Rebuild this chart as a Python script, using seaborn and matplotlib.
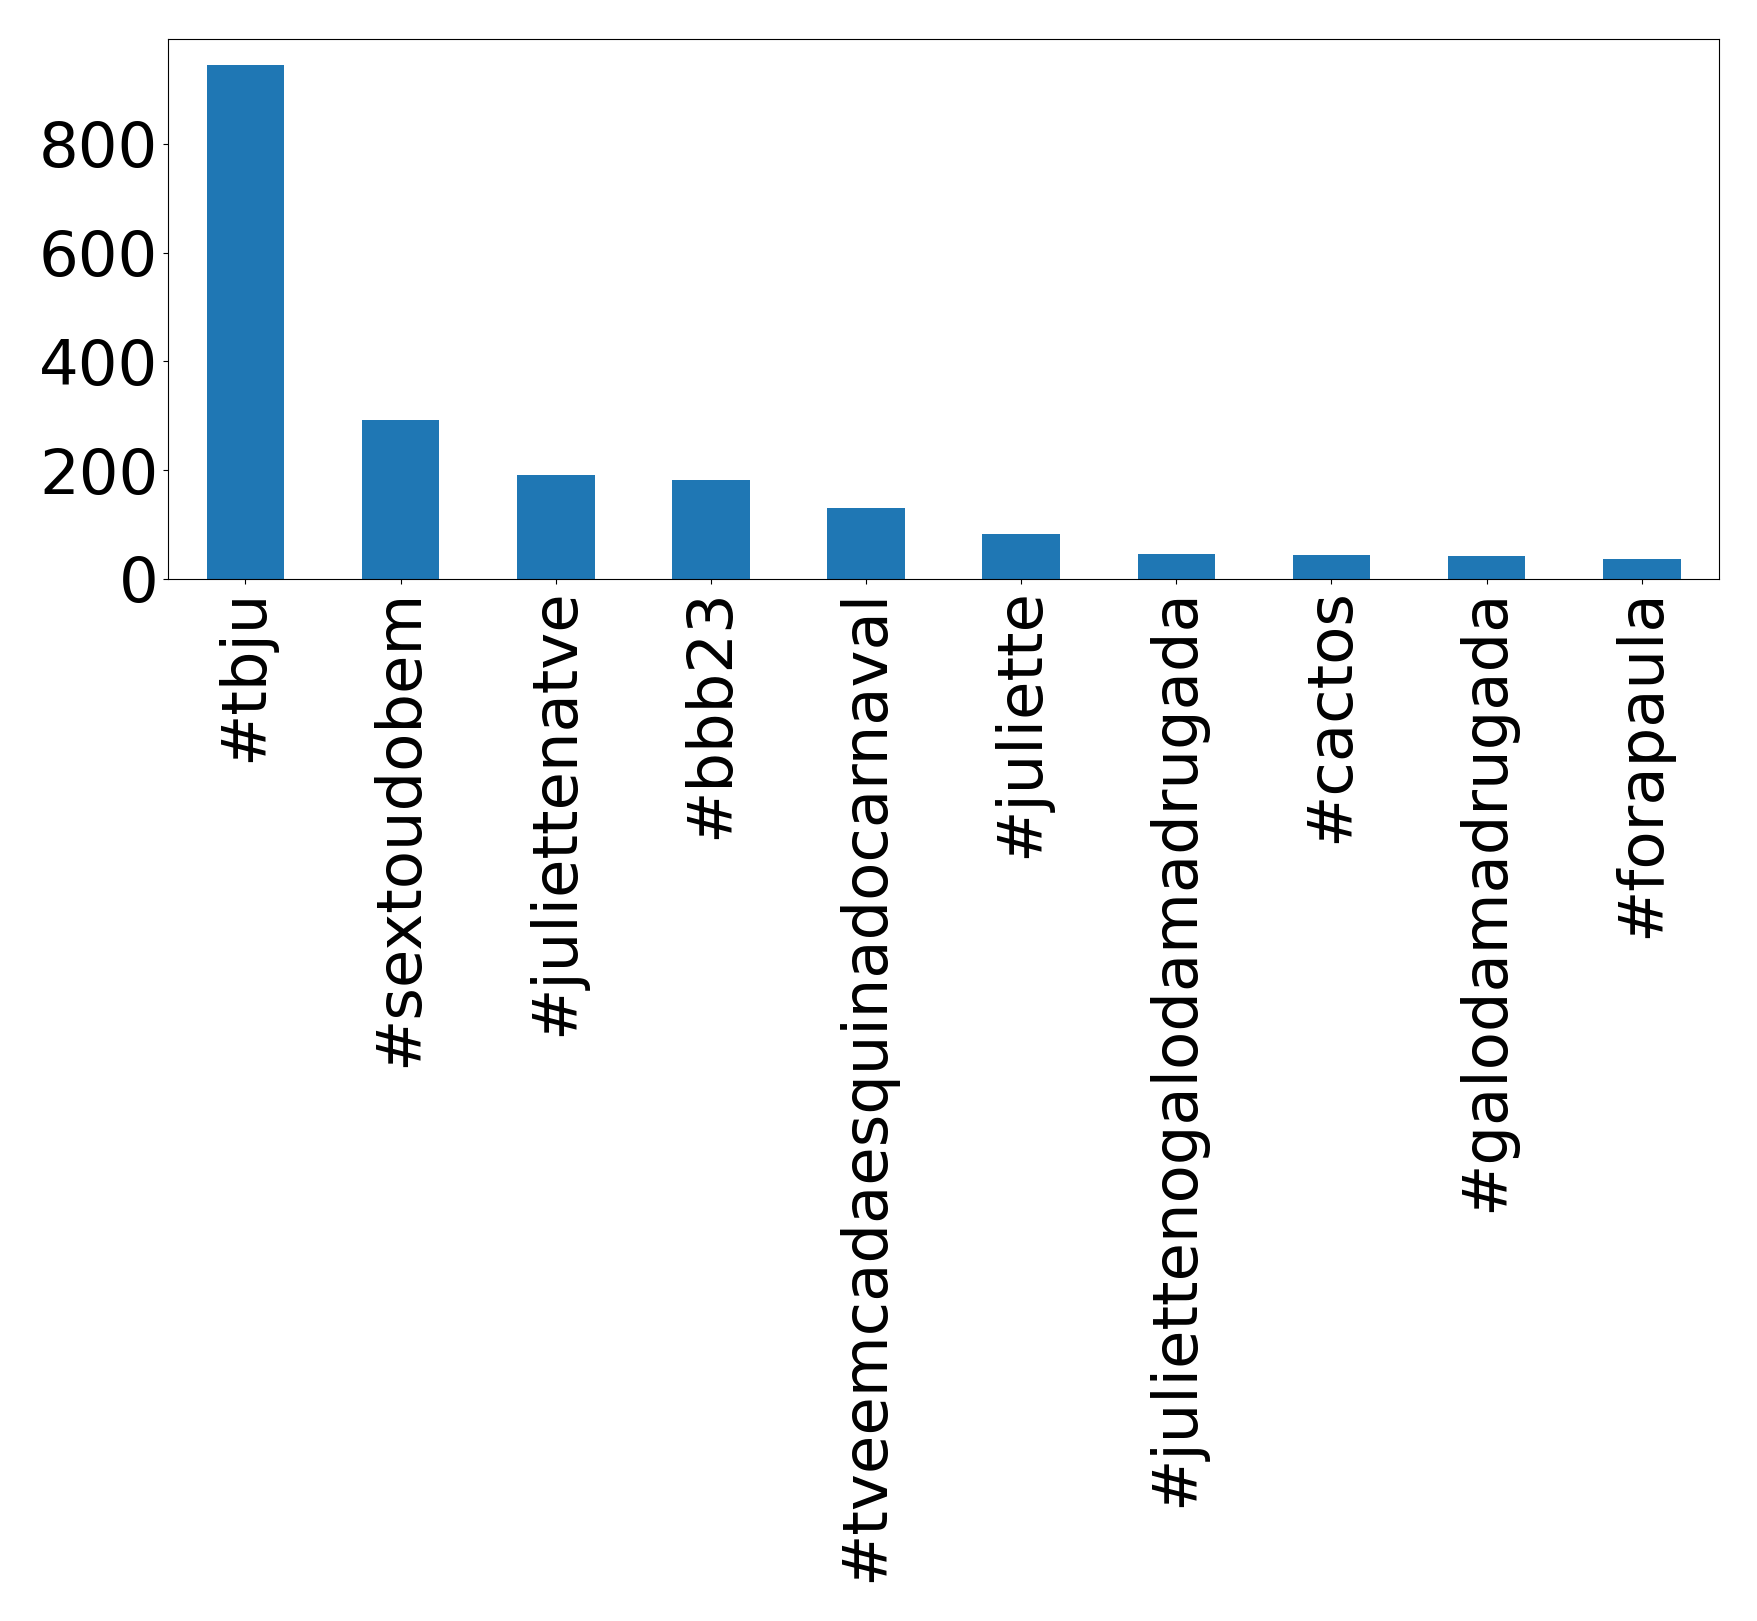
import matplotlib
matplotlib.use("Agg")
import matplotlib.pyplot as plt
from matplotlib.ticker import MultipleLocator
import pandas as pd
import seaborn as sns

# hashtag counts
hashtags = [
    "#tbju",
    "#sextoudobem",
    "#juliettenatve",
    "#bbb23",
    "#tveemcadaesquinadocarnaval",
    "#juliette",
    "#juliettenogalodamadrugada",
    "#cactos",
    "#galodamadrugada",
    "#forapaula",
]
counts = [946, 292, 191, 182, 130, 83, 46, 43, 41, 37]

df = pd.DataFrame({"hashtag": hashtags, "count": counts})

fig, ax = plt.subplots(figsize=(17.58, 16.21), dpi=100)

sns.barplot(
    data=df,
    x="hashtag",
    y="count",
    color="#1f77b4",
    saturation=1,
    width=0.5,
    ax=ax
)

ax.set_xlabel("")
ax.set_ylabel("")
ax.yaxis.set_major_locator(MultipleLocator(200))
ax.tick_params(axis="both", labelsize=45)
ax.tick_params(axis="x", labelrotation=90)

fig.subplots_adjust(left=0.0955, right=0.978, top=0.976, bottom=0.643)

fig.savefig("out.png", dpi=100)
plt.close(fig)
